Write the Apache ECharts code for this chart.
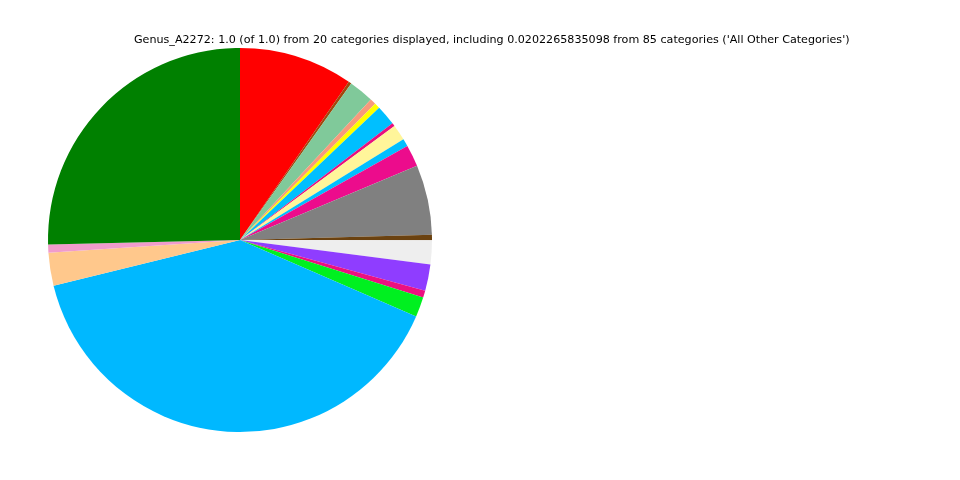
<!DOCTYPE html>
<html><head><meta charset="utf-8">
<script src="https://cdn.jsdelivr.net/npm/echarts@6/dist/echarts.min.js"></script>
<style>html,body{margin:0;padding:0;background:#fff}#c{width:960px;height:480px}</style>
</head><body><div id="c"></div>
<script>
const titleText = "Genus_A2272: 1.0 (of 1.0) from 20 categories displayed, including 0.0202265835098 from 85 categories ('All Other Categories')";
const categories = ["Cat 1","Cat 2","Cat 3","Cat 4","Cat 5","Cat 6","Cat 7","Cat 8","Cat 9","Cat 10","Cat 11","Cat 12","All Other Categories","Cat 14","Cat 15","Cat 16","Cat 17","Cat 18","Cat 19","Cat 20"];
const values = [0.096,0.0025,0.021,0.005,0.0047,0.017,0.0028,0.0133,0.0064,0.0183,0.059,0.0045,0.0202,0.0222,0.006,0.0167,0.397,0.0278,0.007,0.254];
const colors = ["#ff0000","#a0480c","#80c99a","#f89a7c","#ffff00","#00bfff","#e8107f","#fff59a","#00bfff","#ec0c8c","#808080","#6b4210","#eeeeee","#8f3dff","#ec1080","#00f020","#00b8ff","#ffc88c","#f09ccc","#008000"];

const chart = echarts.init(document.getElementById('c'));
chart.setOption({
  animation: false,
  backgroundColor: '#ffffff',
  title: {
    text: titleText, left: 129, top: 30,
    textStyle: {fontFamily: 'DejaVu Sans', fontSize: 11.14, fontWeight: 'normal', color: '#000'}
  },
  series: [{
    type: 'pie', center: [240, 240], radius: 192, startAngle: 90, clockwise: true,
    label: {show: false}, labelLine: {show: false}, emphasis: {disabled: true},
    itemStyle: {borderWidth: 0},
    data: categories.map((n, i) => ({name: n, value: values[i], itemStyle: {color: colors[i]}}))
  }]
});
</script></body></html>
